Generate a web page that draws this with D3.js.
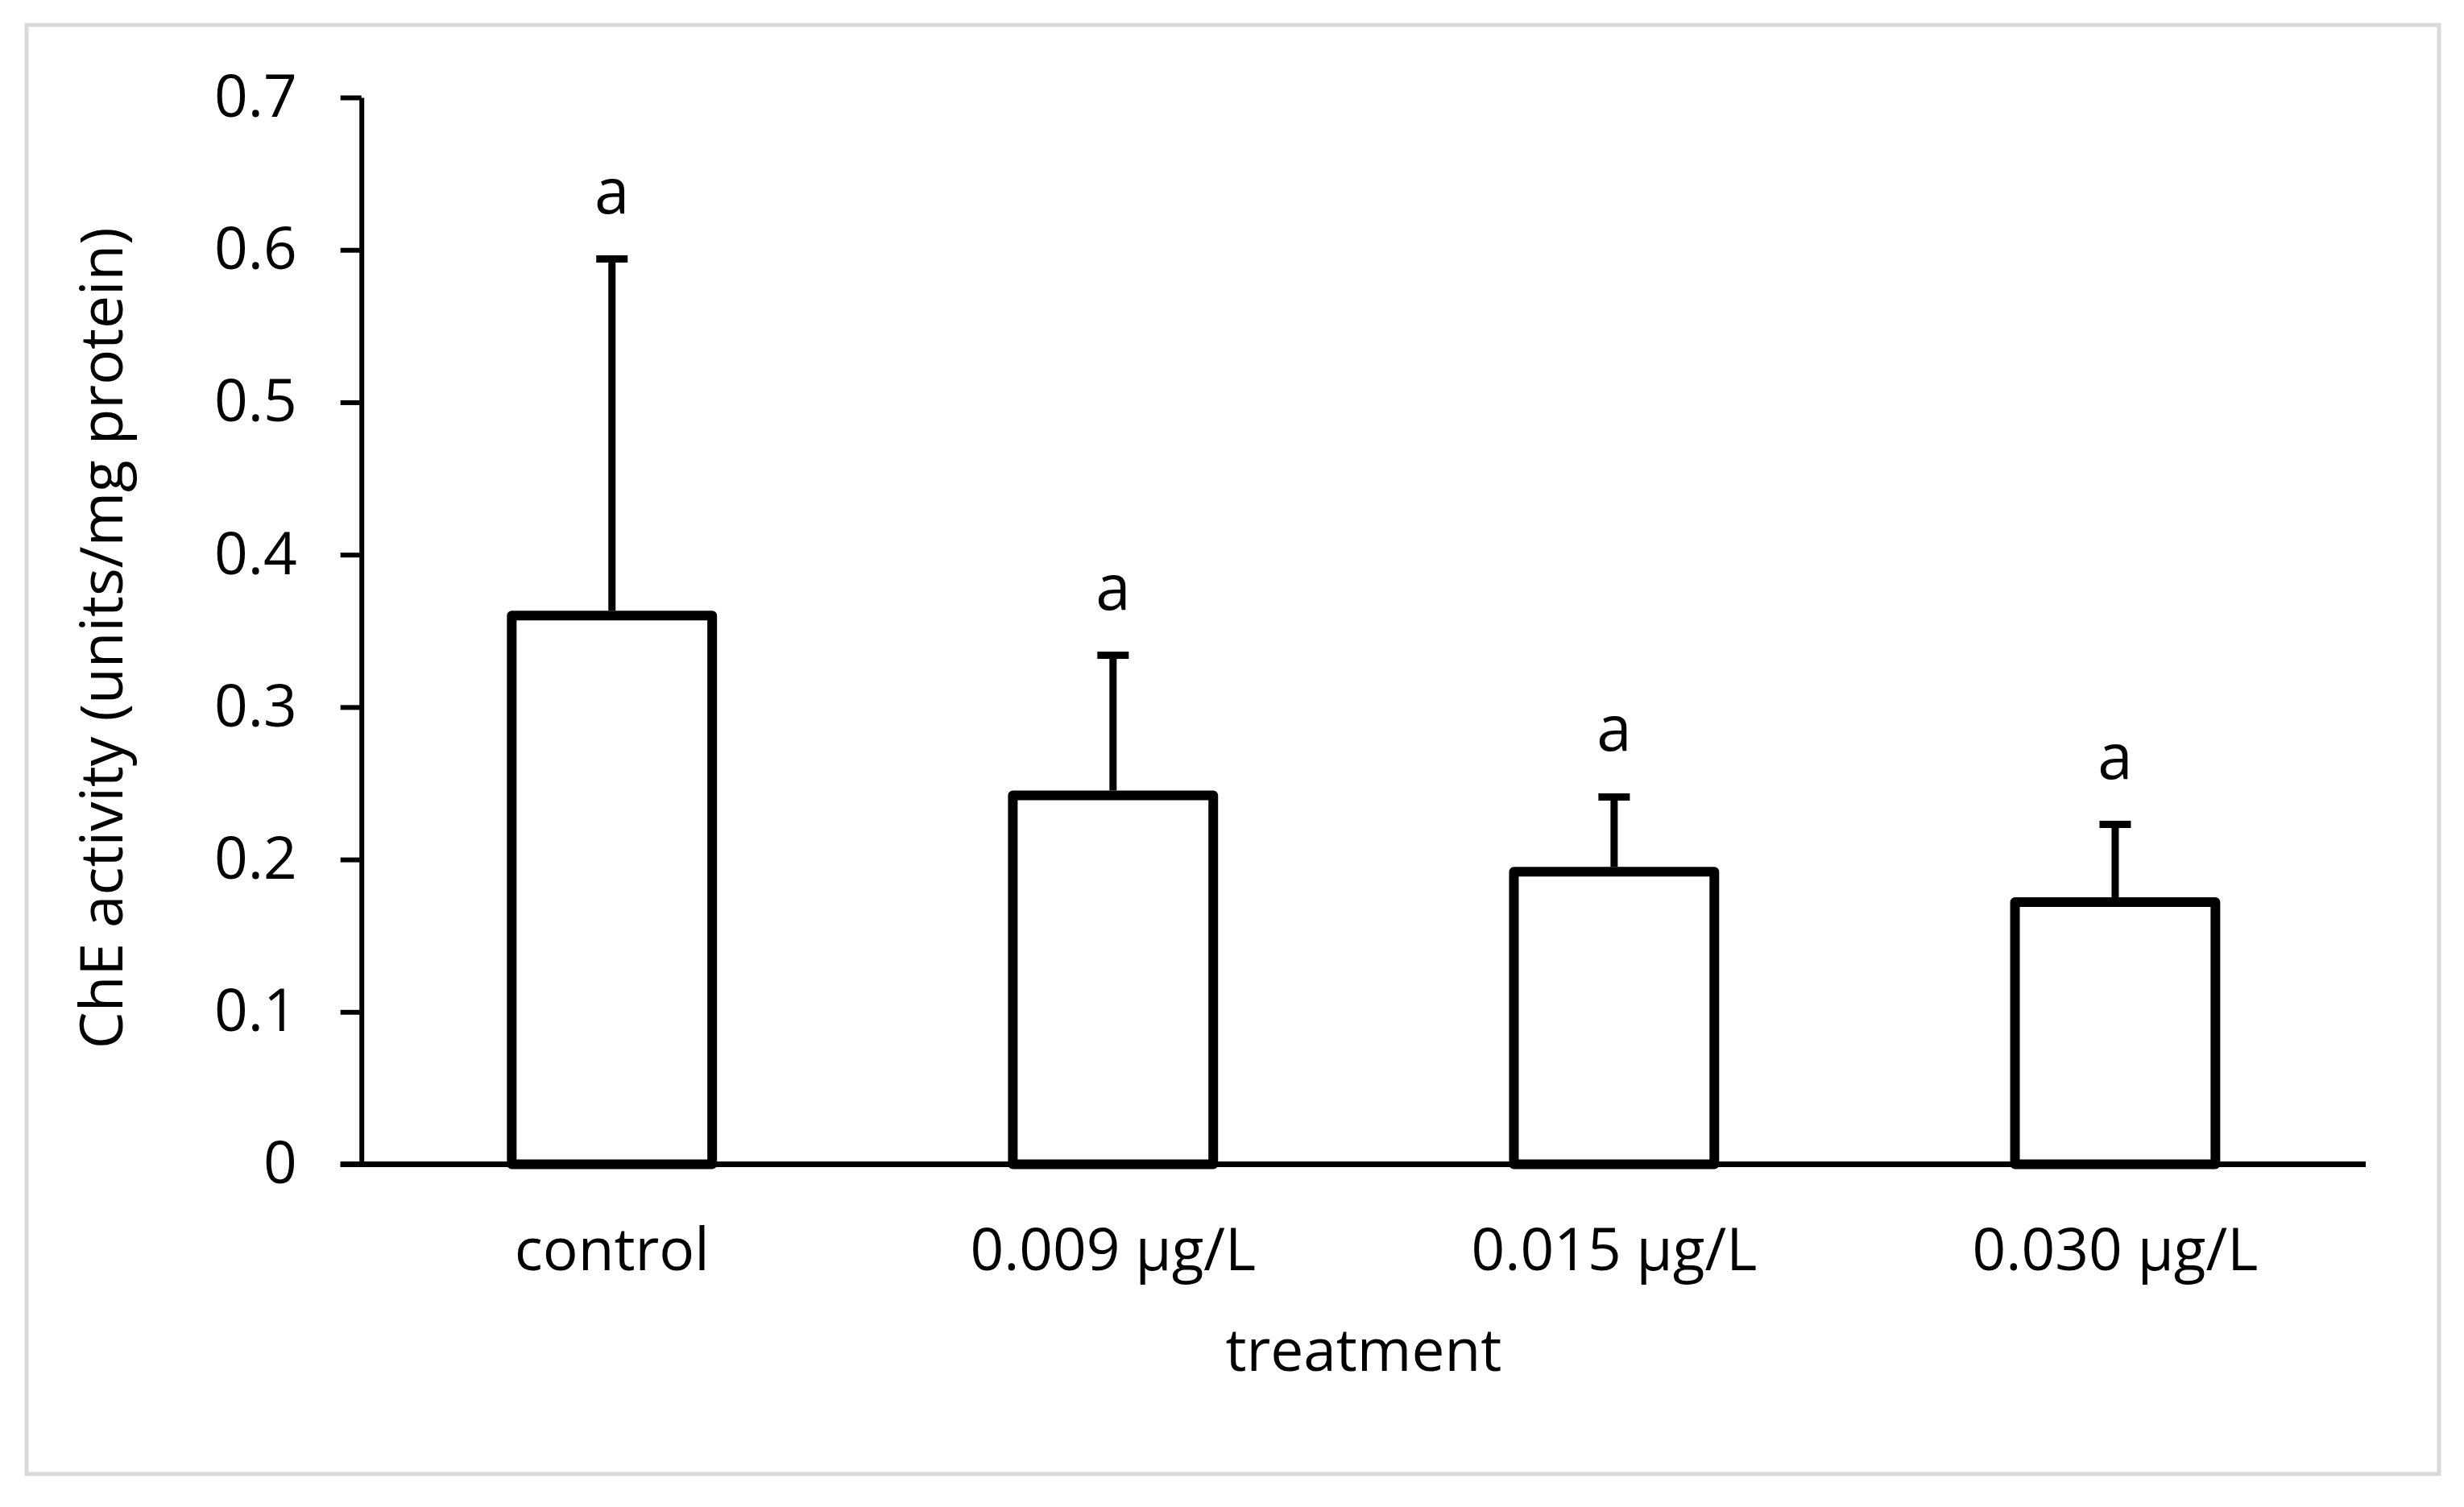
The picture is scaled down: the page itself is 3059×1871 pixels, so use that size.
<!DOCTYPE html>
<html>
<head>
<meta charset="utf-8">
<script src="https://cdn.jsdelivr.net/npm/d3@7"></script>
<style>
    body { margin: 0; background: #fff; }
    text { font-family: 'Open Sans', sans-serif; fill: #000; }
</style>
</head>
<body>
<svg id="chart" width="3059" height="1871"></svg>
<script>
// data
const categories = ['control', '0.009 μg/L', '0.015 μg/L', '0.030 μg/L'];
const means = [0.360, 0.242, 0.192, 0.172];
const errors = [0.234, 0.092, 0.049, 0.051];
const letters = ['a', 'a', 'a', 'a'];
const yTicks = [0, 0.1, 0.2, 0.3, 0.4, 0.5, 0.6, 0.7];

const data = categories.map((c, i) => ({cat: c, mean: means[i], err: errors[i], letter: letters[i]}));

const svg = d3.select('#chart');

// outer frame
svg.append('rect')
    .attr('x', 33).attr('y', 31)
    .attr('width', 2995).attr('height', 1799)
    .attr('fill', '#fff')
    .attr('stroke', '#d9d9d9')
    .attr('stroke-width', 5);

const plotLeft = 448.7, plotRight = 2937, plotTop = 121, plotBottom = 1445.5;

const x = d3.scaleBand().domain(categories).range([plotLeft, plotRight]).paddingInner(0.6).paddingOuter(0.3);
const y = d3.scaleLinear().domain([0, 0.7]).range([plotBottom, plotTop]);

// y axis
const yAxis = svg.append('g')
    .attr('transform', `translate(${plotLeft},0)`)
    .call(d3.axisLeft(y).tickValues(yTicks).tickFormat(d3.format('')).tickSize(26).tickSizeOuter(0).tickPadding(54));
yAxis.select('.domain').attr('stroke', '#000').attr('stroke-width', 6);
yAxis.selectAll('.tick line').attr('stroke', '#000').attr('stroke-width', 6);
yAxis.selectAll('.tick text')
    .style('font-family', "'Open Sans', sans-serif")
    .style('font-size', '73px')
    .attr('fill', '#000');

// bars
svg.append('g')
    .selectAll('rect')
    .data(data)
    .enter()
    .append('rect')
    .attr('x', d => x(d.cat))
    .attr('y', d => y(d.mean))
    .attr('width', x.bandwidth())
    .attr('height', d => y(0) - y(d.mean))
    .attr('fill', '#fff')
    .attr('stroke', '#000')
    .attr('stroke-width', 12)
    .attr('stroke-linejoin', 'round');

// x axis line
svg.append('line')
    .attr('x1', plotLeft - 26).attr('x2', plotRight)
    .attr('y1', y(0)).attr('y2', y(0))
    .attr('stroke', '#000')
    .attr('stroke-width', 7);

// error bars (upper only)
const err = svg.append('g');
err.selectAll('line.stem')
    .data(data)
    .enter()
    .append('line')
    .attr('class', 'stem')
    .attr('x1', d => x(d.cat) + x.bandwidth() / 2)
    .attr('x2', d => x(d.cat) + x.bandwidth() / 2)
    .attr('y1', d => y(d.mean) - 6)
    .attr('y2', d => y(d.mean + d.err))
    .attr('stroke', '#000')
    .attr('stroke-width', 9);
err.selectAll('line.cap')
    .data(data)
    .enter()
    .append('line')
    .attr('class', 'cap')
    .attr('x1', d => x(d.cat) + x.bandwidth() / 2 - 19.5)
    .attr('x2', d => x(d.cat) + x.bandwidth() / 2 + 19.5)
    .attr('y1', d => y(d.mean + d.err))
    .attr('y2', d => y(d.mean + d.err))
    .attr('stroke', '#000')
    .attr('stroke-width', 9);

// significance letters
svg.append('g')
    .selectAll('text')
    .data(data)
    .enter()
    .append('text')
    .attr('x', d => x(d.cat) + x.bandwidth() / 2)
    .attr('y', d => y(d.mean + d.err) - 57)
    .attr('text-anchor', 'middle')
    .style('font-size', '78px')
    .text(d => d.letter);

// category labels
svg.append('g')
    .selectAll('text')
    .data(categories)
    .enter()
    .append('text')
    .attr('x', d => x(d) + x.bandwidth() / 2)
    .attr('y', 1577)
    .attr('text-anchor', 'middle')
    .style('font-size', '73px')
    .text(d => d);

// axis titles
svg.append('text')
    .attr('x', (plotLeft + plotRight) / 2)
    .attr('y', 1702)
    .attr('text-anchor', 'middle')
    .style('font-size', '73px')
    .text('treatment');

svg.append('text')
    .attr('transform', `translate(152, ${(plotTop + plotBottom) / 2 + 9}) rotate(-90)`)
    .attr('text-anchor', 'middle')
    .style('font-size', '73px')
    .text('ChE activity (units/mg protein)');
</script>
</body>
</html>
